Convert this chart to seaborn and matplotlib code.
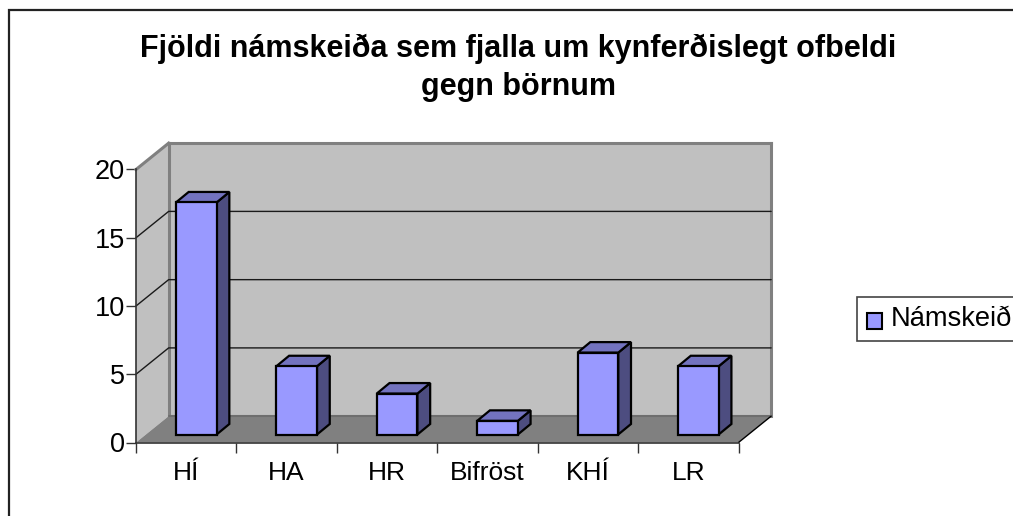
import matplotlib
matplotlib.use("Agg")
import matplotlib.pyplot as plt
from matplotlib.patches import Polygon, Rectangle
import pandas as pd
import seaborn as sns

categories = ["HÍ", "HA", "HR", "Bifröst", "KHÍ", "LR"]
courses = [17, 5, 3, 1, 6, 5]
y_ticks = [0, 5, 10, 15, 20]
series_name = "Námskeið"
title = "Fjöldi námskeiða sem fjalla um kynferðislegt ofbeldi\ngegn börnum"

sns.set_theme(style="white")
plt.rcParams["font.family"] = ["Liberation Sans", "DejaVu Sans"]

W, H = 1013, 516
fig = plt.figure(figsize=(W / 100, H / 100), dpi=100)
fig.patch.set_facecolor("white")

# front plane of the fake 3d box, in pixels
left, right, bottom, top = 136, 738.5, 442.5, 169.5
ax = fig.add_axes([left / W, 1 - bottom / H, (right - left) / W, (bottom - top) / H])
ax.patch.set_alpha(0)

df = pd.DataFrame({"school": categories, "courses": courses})
sns.barplot(data=df, x="school", y="courses", color="#9999FF", saturation=1,
            width=0.405, edgecolor="black", linewidth=1.6, ax=ax, zorder=5, clip_on=False)

x0, x1 = -0.5, 5.5
y0, y1 = 0, 20
ax.set_xlim(x0, x1)
ax.set_ylim(y0, y1)

# wall depth and bar shift in data units
ddx, ddy = 0.325, 1.93
bar_dx, bar_dy = 0.10, 0.585
side_dx, side_dy = 0.127, 0.77


def poly(pts, fc, z, ec="none", lw=0):
    ax.add_patch(Polygon(pts, closed=True, facecolor=fc, edgecolor=ec, linewidth=lw,
                         zorder=z, clip_on=False, joinstyle="miter"))


# walls and floor
poly([(x0, y0), (x0 + ddx, y0 + ddy), (x0 + ddx, y1 + ddy), (x0, y1)], "#C0C0C0", 1)
poly([(x0 + ddx, y0 + ddy), (x1 + ddx, y0 + ddy), (x1 + ddx, y1 + ddy), (x0 + ddx, y1 + ddy)], "#C0C0C0", 1)
poly([(x0, y0), (x1, y0), (x1 + ddx, y0 + ddy), (x0 + ddx, y0 + ddy)], "#808080", 2)

wall = dict(color="#808080", lw=2.2, zorder=3, clip_on=False, solid_capstyle="projecting")
ax.plot([x0 + ddx, x0 + ddx], [y0 + ddy, y1 + ddy], **wall)
ax.plot([x0 + ddx, x1 + ddx], [y1 + ddy, y1 + ddy], **wall)
ax.plot([x1 + ddx, x1 + ddx], [y0 + ddy, y1 + ddy], **wall)
ax.plot([x0, x0 + ddx], [y1, y1 + ddy], **wall)
ax.plot([x0 + ddx, x1 + ddx], [y0 + ddy, y0 + ddy], color="#6E6E6E", lw=1.5, zorder=3, clip_on=False)
ax.plot([x1, x1 + ddx], [y0, y0 + ddy], color="black", lw=1, zorder=3, clip_on=False)

# gridlines, back wall plus the diagonal on the side wall
for t in y_ticks[1:-1]:
    ax.plot([x0, x0 + ddx, x1 + ddx], [t, t + ddy, t + ddy], color="#1a1a1a", lw=1, zorder=3, clip_on=False)

# bars get shifted onto the floor, side and top faces follow from the patch
for p in ax.patches:
    if not isinstance(p, Rectangle):
        continue
    p.set_x(p.get_x() + bar_dx)
    p.set_y(bar_dy)
    xa, xb = p.get_x(), p.get_x() + p.get_width()
    ya, yb = p.get_y(), p.get_y() + p.get_height()
    poly([(xb, ya), (xb + side_dx, ya + side_dy), (xb + side_dx, yb + side_dy), (xb, yb)],
         "#4D4D80", 4, "black", 1.6)
    poly([(xa, yb), (xb, yb), (xb + side_dx, yb + side_dy), (xa + side_dx, yb + side_dy)],
         "#7373BF", 4, "black", 1.6)

ax.set_xlabel("")
ax.set_ylabel("")
ax.set_yticks(y_ticks)
ax.set_xticks([i - 0.5 for i in range(len(categories) + 1)], minor=True)
ax.set_xticks(range(len(categories)), labels=categories)
ax.tick_params(axis="x", which="major", length=0, pad=13, labelsize=19, colors="black")
ax.tick_params(axis="x", which="minor", length=7, width=1, color="#333333", bottom=True)
ax.tick_params(axis="y", length=7, width=1, color="#333333", labelsize=19.5, pad=1, left=True, labelcolor="black")

sns.despine(ax=ax, top=True, right=True)
for s in ("left", "bottom"):
    ax.spines[s].set_color("#333333")
    ax.spines[s].set_linewidth(1.2)
    ax.spines[s].set_zorder(4)

# outer chart frame, runs off the right and bottom edges like the original
fig.add_artist(Rectangle((8.5 / W, 1 - 530 / H), 1030 / W, 520 / H, transform=fig.transFigure,
                         facecolor="none", edgecolor="#222222", linewidth=1.6, zorder=0))

fig.text(518 / W, 1 - 68 / H, title, ha="center", va="center", fontsize=22,
         fontweight="bold", color="black", linespacing=1.32)

# legend box
fig.add_artist(Rectangle((856.5 / W, 1 - 340.5 / H), 170 / W, 44 / H, transform=fig.transFigure,
                         facecolor="white", edgecolor="#444444", linewidth=1.2))
fig.add_artist(Rectangle((867 / W, 1 - 329 / H), 15 / W, 16 / H, transform=fig.transFigure,
                         facecolor="#9999FF", edgecolor="black", linewidth=1.5))
fig.text(891 / W, 1 - 319 / H, series_name, ha="left", va="center", fontsize=19.6, color="black")

fig.savefig("out.png", dpi=100)
